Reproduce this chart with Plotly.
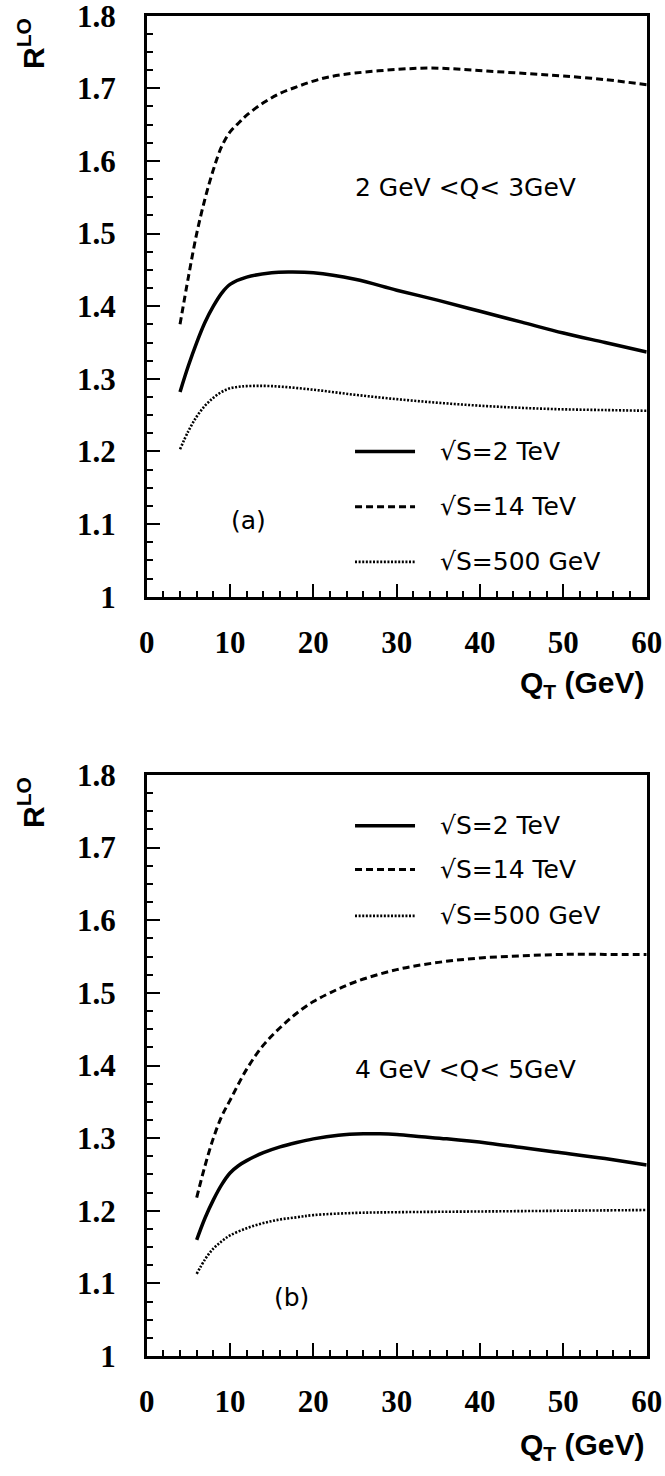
import plotly.graph_objects as go

# ---------------- data ----------------
# Panel (a): 2 GeV < Q < 3 GeV
a_x_2tev = [4, 5, 6, 7, 8, 9, 10, 12, 15, 17, 20, 25, 30, 35, 40, 45, 50, 55, 60]
a_y_2tev = [1.282, 1.318, 1.350, 1.378, 1.400, 1.418, 1.430, 1.440, 1.446, 1.447, 1.446,
            1.437, 1.422, 1.408, 1.393, 1.378, 1.363, 1.350, 1.337]

a_x_14tev = [4, 5, 6, 7, 8, 9, 10, 11, 12, 14, 16, 18, 20, 22, 25, 30, 34, 38, 42, 46, 50, 55, 60]
a_y_14tev = [1.375, 1.440, 1.500, 1.548, 1.588, 1.620, 1.640, 1.652, 1.663, 1.680, 1.693,
             1.702, 1.710, 1.716, 1.721, 1.726, 1.728, 1.726, 1.723, 1.720, 1.717, 1.712, 1.705]

a_x_500gev = [4, 5, 6, 7, 8, 9, 10, 11, 12, 15, 20, 25, 30, 35, 40, 45, 50, 55, 60]
a_y_500gev = [1.203, 1.228, 1.248, 1.263, 1.274, 1.282, 1.287, 1.289, 1.290, 1.290, 1.285,
              1.278, 1.272, 1.267, 1.263, 1.260, 1.258, 1.257, 1.256]

# Panel (b): 4 GeV < Q < 5 GeV
b_x_2tev = [6, 7, 8, 9, 10, 11, 12, 14, 16, 18, 20, 23, 26, 28, 30, 33, 36, 41, 45, 49, 55, 60]
b_y_2tev = [1.160, 1.190, 1.215, 1.236, 1.252, 1.262, 1.269, 1.280, 1.288, 1.294, 1.299,
            1.304, 1.306, 1.306, 1.305, 1.302, 1.299, 1.293, 1.287, 1.281, 1.272, 1.263]

b_x_14tev = [6, 7, 8, 9, 10, 12, 14, 16, 18, 20, 22, 25, 30, 35, 40, 45, 50, 55, 60]
b_y_14tev = [1.218, 1.262, 1.300, 1.330, 1.352, 1.395, 1.428, 1.452, 1.472, 1.488, 1.500,
             1.515, 1.532, 1.542, 1.548, 1.551, 1.553, 1.553, 1.553]

b_x_500gev = [6, 7, 8, 9, 10, 12, 14, 16, 18, 20, 25, 30, 40, 50, 60]
b_y_500gev = [1.113, 1.133, 1.148, 1.158, 1.166, 1.176, 1.183, 1.188, 1.191, 1.194, 1.197,
              1.198, 1.199, 1.200, 1.201]

legend_labels = ["\u221aS=2 TeV", "\u221aS=14 TeV", "\u221aS=500 GeV"]
panel_labels = ["(a)", "(b)"]
range_labels = ["2 GeV <Q< 3GeV", "4 GeV <Q< 5GeV"]
y_tickvals = [1.0, 1.1, 1.2, 1.3, 1.4, 1.5, 1.6, 1.7, 1.8]
y_ticktext = ["1", "1.1", "1.2", "1.3", "1.4", "1.5", "1.6", "1.7", "1.8"]
x_tickvals = [0, 10, 20, 30, 40, 50, 60]
x_ticktext = ["0", "10", "20", "30", "40", "50", "60"]

# ---------------- layout constants ----------------
W, H = 665, 1476
XL, XR = 146.7, 646.7
TOP_A, BOT_A = 15.7, 596.7
TOP_B, BOT_B = 775.0, 1356.0

def py(y):
    return 1 - y / H

styles = [
    dict(color="black", width=3.5, dash="solid"),
    dict(color="black", width=3.0, dash="7px,4px"),
    dict(color="black", width=2.6, dash="2px,1.6px"),
]

fig = go.Figure()
series_a = [(a_x_2tev, a_y_2tev), (a_x_14tev, a_y_14tev), (a_x_500gev, a_y_500gev)]
series_b = [(b_x_2tev, b_y_2tev), (b_x_14tev, b_y_14tev), (b_x_500gev, b_y_500gev)]
for (xs, ys), st in zip(series_a, styles):
    fig.add_trace(go.Scatter(x=xs, y=ys, mode="lines", line=dict(shape="spline", **st),
                             xaxis="x", yaxis="y", showlegend=False))
for (xs, ys), st in zip(series_b, styles):
    fig.add_trace(go.Scatter(x=xs, y=ys, mode="lines", line=dict(shape="spline", **st),
                             xaxis="x2", yaxis="y2", showlegend=False))

tickfont = dict(family="Liberation Serif", size=31, color="black", weight="bold")

def xaxis(anchor):
    return dict(domain=[XL / W, XR / W], range=[0, 60], anchor=anchor, automargin=False,
                showline=True, linecolor="black", linewidth=2.5, mirror=True,
                ticks="inside", ticklen=13, tickwidth=2, tickcolor="black",
                tickvals=x_tickvals, ticktext=x_ticktext, tickfont=tickfont,
                ticklabelstandoff=16, ticklabeloverflow="allow",
                minor=dict(ticks="inside", ticklen=6, tickwidth=1.5, tickcolor="black", dtick=2,
                           tick0=0, showgrid=False),
                showgrid=False, zeroline=False, fixedrange=True)

def yaxis(anchor, top, bot):
    return dict(domain=[py(bot), py(top)], range=[1.0, 1.8], anchor=anchor, automargin=False,
                showline=True, linecolor="black", linewidth=2.5, mirror=True,
                ticks="inside", ticklen=14, tickwidth=2, tickcolor="black",
                tickvals=y_tickvals, ticktext=y_ticktext, tickfont=tickfont,
                ticklabelstandoff=22, ticklabeloverflow="allow",
                minor=dict(ticks="inside", ticklen=7, tickwidth=1.5, tickcolor="black", dtick=0.025,
                           tick0=1.0, showgrid=False),
                showgrid=False, zeroline=False, fixedrange=True)

annot_font = dict(family="DejaVu Sans", size=25, color="black")
title_font = dict(family="Liberation Sans", size=30, color="black", weight="bold")
xtitle_font = dict(family="Liberation Sans", size=30, color="black", weight="bold")

annotations = []
shapes = []
# legend rows (data-y positions), line x-extent and text x
leg_rows = {"a": [1.200, 1.124, 1.048], "b": [1.730, 1.670, 1.606]}
LEG_X0, LEG_X1, LEG_TX = 25.0, 32.2, 35.0
for key, xr, yr in [("a", "x", "y"), ("b", "x2", "y2")]:
    for row, st, lab in zip(leg_rows[key], styles, legend_labels):
        shapes.append(dict(type="line", xref=xr, yref=yr, x0=LEG_X0, x1=LEG_X1, y0=row, y1=row,
                           line=st))
        annotations.append(dict(xref=xr, yref=yr, x=LEG_TX, y=row, text=lab, showarrow=False,
                                xanchor="left", yanchor="middle", font=annot_font))

annotations += [
    dict(xref="x", yref="y", x=24.8, y=1.564, text=range_labels[0], showarrow=False,
         xanchor="left", yanchor="middle", font=annot_font),
    dict(xref="x2", yref="y2", x=24.8, y=1.395, text=range_labels[1], showarrow=False,
         xanchor="left", yanchor="middle", font=annot_font),
    dict(xref="x", yref="y", x=12.2, y=1.105, text=panel_labels[0], showarrow=False,
         xanchor="center", yanchor="middle", font=annot_font),
    dict(xref="x2", yref="y2", x=17.4, y=1.080, text=panel_labels[1], showarrow=False,
         xanchor="center", yanchor="middle", font=annot_font),
]
for yc in (44.0, 803.0):
    annotations.append(dict(xref="paper", yref="paper", x=31 / W, y=py(yc),
                            text="R<sup>LO</sup>", textangle=-90, showarrow=False,
                            xanchor="center", yanchor="middle", font=title_font))
for yc in (685.0, 1446.0):
    annotations.append(dict(xref="paper", yref="paper", x=XR / W, y=py(yc),
                            text="Q<sub>T</sub> (GeV)", showarrow=False,
                            xanchor="right", yanchor="middle", font=xtitle_font))

fig.update_layout(
    width=W, height=H,
    margin=dict(l=0, r=0, t=0, b=0, autoexpand=False),
    paper_bgcolor="white", plot_bgcolor="white",
    xaxis=xaxis("y"), yaxis=yaxis("x", TOP_A, BOT_A),
    xaxis2=xaxis("y2"), yaxis2=yaxis("x2", TOP_B, BOT_B),
    annotations=annotations, shapes=shapes,
    showlegend=False,
)

fig.write_html("out.html", config={"displayModeBar": False})
